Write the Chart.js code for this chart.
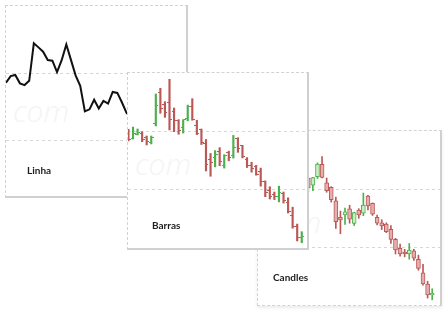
<!DOCTYPE html>
<html>
<head>
<meta charset="utf-8">
<script src="https://cdn.jsdelivr.net/npm/chart.js@4.4.1/dist/chart.umd.min.js"></script>
<style>
  html, body { margin: 0; padding: 0; background: #fff; }
  body { width: 445px; height: 312px; position: relative; overflow: hidden; }
  .panel {
    position: absolute; background: #fff;
    border-left: 1px dashed #d2d2d2; border-top: 1px dashed #d2d2d2;
    border-right: 2px solid #d0d0d0; border-bottom: 2px solid #d0d0d0;
  }
  .panel canvas { position: absolute; left: 0; top: 0; }
  .mark { position: absolute; color: #f4f4f4; font: italic 300 30px "Open Sans", sans-serif; }
  .label { position: absolute; z-index: 5; font: bold 10px Lato, "Liberation Sans", sans-serif; color: #1e1e1e; }
  #p1 { left: 5px; top: 5px; width: 180px; height: 190px; z-index: 1; }
  #p2 { left: 127px; top: 72px; width: 179px; height: 175px; z-index: 3; }
  #p3 { left: 257px; top: 130px; width: 182px; height: 174px; z-index: 2;
        border-bottom: 1px dashed #d2d2d2; box-shadow: 0 2px 3px rgba(0,0,0,0.08); }
</style>
</head>
<body>
<div class="panel" id="p1">
  <div class="mark" style="left:7px; top:84px;">com</div>
  <canvas id="lineChart" width="180" height="190"></canvas>
  <div class="label" style="left:21px; top:158px;">Linha</div>
</div>
<div class="panel" id="p2">
  <div class="mark" style="left:7px; top:70px;">com</div>
  <canvas id="barChart" width="179" height="175"></canvas>
  <div class="label" style="left:24px; top:146px;">Barras</div>
</div>
<div class="panel" id="p3">
  <div class="mark" style="left:7px; top:70px;">com</div>
  <canvas id="candleChart" width="182" height="174"></canvas>
  <div class="label" style="left:15px; top:140px;">Candles</div>
</div>
<script>
const days = [1, 2, 3, 4, 5, 6, 7, 8, 9, 10, 11, 12, 13, 14, 15, 16, 17, 18, 19, 20,
  21, 22, 23, 24, 25, 26, 27, 28, 29, 30, 31, 32, 33, 34, 35, 36, 37, 38, 39];
const opens = [30.0, 29.4, 29.75, 29.85, 29.5, 29.05, 30.7, 33.3, 32.3, 32.5, 31.7, 30.92, 30.34,
  31.06, 32.13, 30.54, 30.15, 28.97, 27.56, 27.76, 28.28, 27.04, 28.19, 27.91, 29.4, 28.77,
  27.56, 27.09, 26.98, 26.53, 25.66, 24.89, 24.57, 24.4, 24.68, 23.94, 22.78, 21.81, 20.86];
const highs = [30.18, 30.37, 30.2, 29.97, 29.6, 29.6, 33.2, 33.69, 32.54, 34.46, 32.0, 31.0, 31.0,
  32.25, 32.8, 30.95, 30.2, 29.3, 28.1, 28.35, 28.6, 28.0, 28.3, 29.65, 29.45, 28.8,
  27.75, 27.35, 27.08, 26.85, 25.75, 25.25, 24.8, 25.3, 24.8, 24.3, 23.5, 22.05, 21.4];
const lows = [29.17, 29.34, 29.69, 29.11, 28.83, 28.92, 30.46, 31.55, 31.2, 30.12, 29.97, 29.75, 29.85,
  30.9, 30.95, 29.72, 28.87, 26.6, 26.15, 26.95, 27.05, 26.85, 27.47, 27.7, 28.2, 27.72,
  26.9, 26.5, 26.24, 25.3, 24.4, 24.2, 24.15, 23.95, 23.85, 23.0, 21.7, 20.6, 20.45];
const closes = [29.31, 29.8, 29.88, 29.26, 29.13, 29.45, 32.23, 31.93, 31.61, 30.99, 30.94, 30.1, 30.98,
  32.15, 31.0, 29.85, 29.08, 27.18, 27.33, 28.04, 27.39, 27.96, 27.76, 28.62, 28.55, 27.84,
  27.05, 26.81, 26.32, 25.66, 24.74, 24.4, 24.4, 24.74, 24.03, 23.16, 21.81, 20.86, 21.01];
const gridValues = [25, 30];

const RED = "#bb5856";
const RED_FILL = "#e4b0ae";
const GREEN = "#4cb04c";
const GREEN_FILL = "#cbeec3";

const isUp = i => closes[i] >= opens[i];
const strokeColors = days.map((d, i) => (isUp(i) ? GREEN : RED));
const fillColors = days.map((d, i) => (isUp(i) ? GREEN_FILL : RED_FILL));

// small tick images for the OHLC open (left) / close (right) marks
function tickImage(color, side) {
    const c = document.createElement("canvas");
    c.width = 5;
    c.height = 1;
    const g = c.getContext("2d");
    g.fillStyle = color;
    g.fillRect(side === "left" ? 0 : 3, 0, 2, 1);
    return c;
}
const ticks = {
    left: { up: tickImage(GREEN, "left"), down: tickImage(RED, "left") },
    right: { up: tickImage(GREEN, "right"), down: tickImage(RED, "right") },
};

function yScale(min, max) {
    return {
        min: min,
        max: max,
        afterBuildTicks: s => { s.ticks = gridValues.map(v => ({ value: v })); },
        ticks: { display: false },
        grid: { color: "#d6d6d6", lineWidth: 1, drawTicks: false },
        border: { display: false, dash: [3, 3] },
    };
}
function xScale(min, max) {
    return { type: "linear", min: min, max: max, display: false, offset: false, grid: { offset: false } };
}
const baseOptions = {
    responsive: false,
    animation: false,
    events: [],
    layout: { padding: 0, autoPadding: false },
    plugins: { legend: { display: false }, tooltip: { enabled: false } },
};

new Chart(document.getElementById("lineChart").getContext("2d"), {
    type: "line",
    data: {
        datasets: [{
            data: days.map((d, i) => ({ x: d, y: closes[i] })),
            borderColor: "#111",
            borderWidth: 2,
            pointRadius: 0,
            tension: 0,
        }],
    },
    options: { ...baseOptions, scales: { x: xScale(1, 39.8), y: yScale(20.9, 35) } },
});

new Chart(document.getElementById("barChart").getContext("2d"), {
    type: "bar",
    data: {
        datasets: [
            {
                type: "line",
                showLine: false,
                data: days.map((d, i) => ({ x: d, y: opens[i] })),
                pointRadius: 2,
                pointStyle: days.map((d, i) => (isUp(i) ? ticks.left.up : ticks.left.down)),
            },
            {
                type: "line",
                showLine: false,
                data: days.map((d, i) => ({ x: d, y: closes[i] })),
                pointRadius: 2,
                pointStyle: days.map((d, i) => (isUp(i) ? ticks.right.up : ticks.right.down)),
            },
            {
                data: days.map((d, i) => ({ x: d, y: [lows[i], highs[i]] })),
                backgroundColor: strokeColors,
                barThickness: 1.5,
                grouped: false,
                clip: 3,
            },
        ],
    },
    options: { ...baseOptions, scales: { x: xScale(0.9, 40.15), y: yScale(20, 35) } },
});

new Chart(document.getElementById("candleChart").getContext("2d"), {
    type: "bar",
    data: {
        datasets: [
            {
                data: days.map((d, i) => ({ x: d, y: [opens[i], closes[i]] })),
                backgroundColor: fillColors,
                borderColor: strokeColors,
                borderWidth: 1,
                borderSkipped: false,
                barThickness: 4,
                grouped: false,
            },
            {
                data: days.map((d, i) => ({ x: d, y: [lows[i], highs[i]] })),
                backgroundColor: strokeColors,
                barThickness: 1,
                grouped: false,
            },
        ],
    },
    options: { ...baseOptions, scales: { x: xScale(1.04, 40.7), y: yScale(20, 35) } },
});
</script>
</body>
</html>
